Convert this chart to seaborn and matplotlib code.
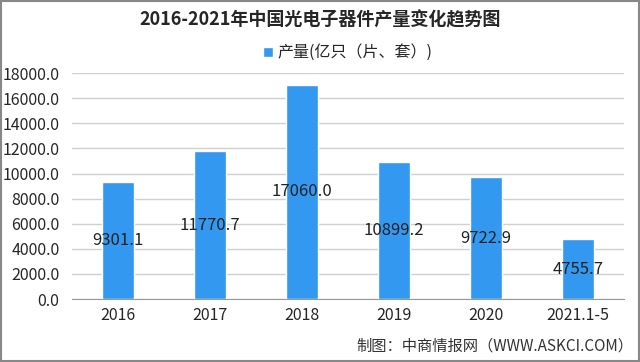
import pandas as pd
import matplotlib
matplotlib.use("Agg")
import matplotlib.pyplot as plt
import seaborn as sns

# data
years = ["2016", "2017", "2018", "2019", "2020", "2021.1-5"]
output = [9301.1, 11770.7, 17060.0, 10899.2, 9722.9, 4755.7]
series_name = "产量(亿只（片、套）)"

df = pd.DataFrame({"year": years, "value": output})

sns.set_style("white")
plt.rcParams['font.family'] = ['Noto Sans CJK SC', 'DejaVu Sans']

bar_color = "#3399F0"

fig = plt.figure(figsize=(6.4, 3.62), dpi=100)
ax = fig.add_axes([0.1125, 0.174, 0.8625, 0.624])

sns.barplot(data=df, x="year", y="value", color=bar_color, width=0.35,
            saturation=1, ax=ax, label=series_name, zorder=3)

ax.set_ylim(0, 18000)
ax.set_yticks(range(0, 18001, 2000))
ax.set_yticklabels([f"{v:.1f}" for v in range(0, 18001, 2000)], fontsize=11.5)
ax.tick_params(axis='x', labelsize=11.5, pad=6)
ax.tick_params(axis='y', length=0, pad=9)
ax.set_xticks([i - 0.5 for i in range(len(years) + 1)], minor=True)
ax.tick_params(axis='x', which='major', length=0)
ax.tick_params(axis='x', which='minor', length=4, color="#999999")
ax.set_xlim(-0.5, len(years) - 0.5)
ax.set_xlabel("")
ax.set_ylabel("")
ax.grid(axis='y', color="#D0D0D0", linewidth=1, zorder=0)
for s in ["top", "right", "left"]:
    ax.spines[s].set_visible(False)
ax.spines["bottom"].set_color("#999999")

# value labels at the middle of each bar
for i, v in enumerate(output):
    ax.text(i, v / 2, f"{v:.1f}", ha="center", va="center", fontsize=12,
            color="#222222", zorder=4)

fig.text(0.5, 0.945, "2016-2021年中国光电子器件产量变化趋势图", ha="center",
         va="center", fontsize=13, fontweight="bold")
ax.legend(loc="center", bbox_to_anchor=(0.5, 1.09), frameon=False,
          fontsize=11.5, handlelength=0.6, handleheight=0.6, handletextpad=0.3)
fig.text(0.99, 0.045, "制图：中商情报网（WWW.ASKCI.COM）", ha="right",
         va="center", fontsize=11, color="#333333")

# outer frame
fig.patches.append(plt.Rectangle((0.002, 0.003), 0.996, 0.994, fill=False,
                                 edgecolor="#888888", linewidth=1.5,
                                 transform=fig.transFigure))

fig.savefig("out.png", dpi=100)
